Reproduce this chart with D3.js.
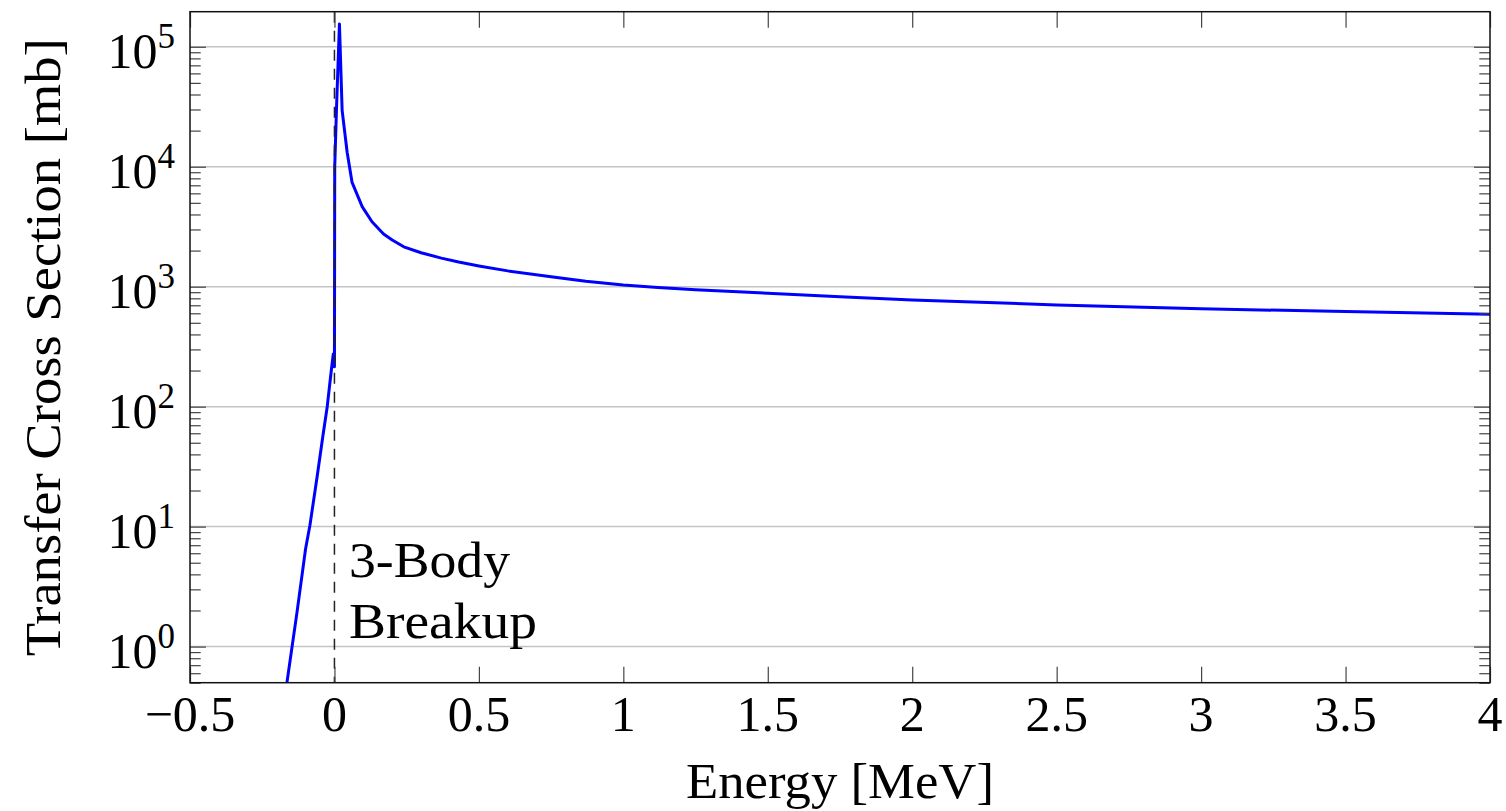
<!DOCTYPE html>
<html>
<head>
<meta charset="utf-8">
<script src="https://cdn.jsdelivr.net/npm/d3@7"></script>
<style>
  body { margin: 0; background: #fff; }
  text { font-family: "Liberation Serif", "DejaVu Serif", serif; fill: #000; }
</style>
</head>
<body>
<div id="chart"></div>
<script>
// Data (energy in MeV, cross section in mb)
const energy = [
  -0.19, -0.165, -0.13, -0.10, -0.085, -0.06, -0.04, -0.025, -0.012, -0.004,
  0.0, 0.001, 0.007, 0.0173, 0.0266, 0.044, 0.061, 0.096, 0.13, 0.17,
  0.2, 0.24, 0.3, 0.37, 0.43, 0.5, 0.6, 0.75, 0.87, 1.0, 1.12, 1.25,
  1.5, 1.75, 2.0, 2.5, 3.0, 3.5, 4.0
];
const crossSection = [
  0.18, 0.49, 1.9, 6.5, 10.2, 26, 57, 100, 190, 275,
  215, 10000, 30000, 155000, 29500, 13200, 7400, 4650, 3480, 2750,
  2450, 2150, 1920, 1730, 1605, 1490, 1355, 1210, 1110, 1035, 985, 945,
  881, 825, 775, 705, 655, 620, 590
];

const xTicks      = [-0.5, 0, 0.5, 1, 1.5, 2, 2.5, 3, 3.5, 4];
const xTickLabels = ["\u22120.5", "0", "0.5", "1", "1.5", "2", "2.5", "3", "3.5", "4"];
const yTicks      = [1, 10, 100, 1000, 10000, 100000];
const yTickExps   = ["0", "1", "2", "3", "4", "5"];
const thresholdE  = 0;           // 3-body breakup threshold
const annotation  = ["3-Body", "Breakup"];

const W = 1506, H = 811;
const pL = 190, pR = 1490, pT = 11.7, pB = 682.7;

const svg = d3.select("#chart").append("svg")
  .attr("width", W).attr("height", H);

const x = d3.scaleLinear().domain([-0.5, 4]).range([pL, pR]);
const y = d3.scaleLog().domain([0.5, 1.96e5]).range([pB, pT]);

// ── Clip to plot area ─────────────────────────────────────
svg.append("clipPath").attr("id", "clip")
  .append("rect")
  .attr("x", pL).attr("y", pT)
  .attr("width", pR - pL).attr("height", pB - pT);

// ── Horizontal grid lines at decades ─────────────────────
svg.append("g")
  .selectAll("line").data(yTicks).join("line")
  .attr("x1", pL).attr("x2", pR)
  .attr("y1", d => y(d)).attr("y2", d => y(d))
  .attr("stroke", "#c4c4c4").attr("stroke-width", 1.5);

// ── Curve ────────────────────────────────────────────────
const pts = energy.map((e, i) => [e, crossSection[i]]);
svg.append("path")
  .datum(pts)
  .attr("clip-path", "url(#clip)")
  .attr("fill", "none")
  .attr("stroke", "#0000ff")
  .attr("stroke-width", 3)
  .attr("stroke-linejoin", "round")
  .attr("d", d3.line().x(d => x(d[0])).y(d => y(d[1])));

// ── Threshold dashed line ────────────────────────────────
svg.append("line")
  .attr("x1", x(thresholdE)).attr("x2", x(thresholdE))
  .attr("y1", pT).attr("y2", pB)
  .attr("stroke", "#222").attr("stroke-width", 1.5)
  .attr("stroke-dasharray", "11,8");

// ── Minor y ticks (2..9 per decade) ──────────────────────
const minor = [];
for (let d = -1; d <= 5; d++) {
  for (let m = 2; m <= 9; m++) {
    const v = m * Math.pow(10, d);
    if (v >= 0.5 && v <= 1.96e5) minor.push(v);
  }
}

// ── Axes (ticks point inward) ────────────────────────────
const tickStyle = g => g.selectAll(".tick line").attr("stroke", "#444").attr("stroke-width", 1.2);

svg.append("g")
  .attr("transform", `translate(0,${pB})`)
  .call(d3.axisBottom(x).tickValues(xTicks).tickSizeInner(-16).tickSizeOuter(0).tickFormat(""))
  .call(g => g.select(".domain").remove())
  .call(tickStyle);

svg.append("g")
  .attr("transform", `translate(0,${pT})`)
  .call(d3.axisTop(x).tickValues(xTicks).tickSizeInner(-16).tickSizeOuter(0).tickFormat(""))
  .call(g => g.select(".domain").remove())
  .call(tickStyle);

[[d3.axisLeft, pL], [d3.axisRight, pR]].forEach(([ax, pos]) => {
  svg.append("g")
    .attr("transform", `translate(${pos},0)`)
    .call(ax(y).tickValues(minor).tickSizeInner(-10.7).tickSizeOuter(0).tickFormat(""))
    .call(g => g.select(".domain").remove())
    .call(tickStyle);
  svg.append("g")
    .attr("transform", `translate(${pos},0)`)
    .call(ax(y).tickValues(yTicks).tickSizeInner(-16).tickSizeOuter(0).tickFormat(""))
    .call(g => g.select(".domain").remove())
    .call(tickStyle);
});

// ── Frame ────────────────────────────────────────────────
svg.append("rect")
  .attr("x", pL).attr("y", pT)
  .attr("width", pR - pL).attr("height", pB - pT)
  .attr("fill", "none").attr("stroke", "#111").attr("stroke-width", 1.5);

// ── Tick labels ──────────────────────────────────────────
svg.append("g")
  .selectAll("text").data(xTicks).join("text")
  .attr("x", d => x(d)).attr("y", 731)
  .attr("text-anchor", "middle")
  .attr("font-size", 50)
  .text((d, i) => xTickLabels[i]);

const yl = svg.append("g")
  .selectAll("text").data(yTicks).join("text")
  .attr("x", 175).attr("y", d => y(d) + 21)
  .attr("text-anchor", "end")
  .attr("font-size", 50);
yl.append("tspan").text("10");
yl.append("tspan").attr("dy", -20).attr("font-size", 35).text((d, i) => yTickExps[i]);

// ── Axis labels ──────────────────────────────────────────
svg.append("text")
  .attr("x", (pL + pR) / 2).attr("y", 798)
  .attr("text-anchor", "middle")
  .attr("font-size", 50)
  .attr("textLength", 308).attr("lengthAdjust", "spacingAndGlyphs")
  .text("Energy [MeV]");

svg.append("text")
  .attr("transform", `translate(60,${(pT + pB) / 2}) rotate(-90)`)
  .attr("text-anchor", "middle")
  .attr("font-size", 50)
  .attr("textLength", 618).attr("lengthAdjust", "spacingAndGlyphs")
  .text("Transfer Cross Section [mb]");

// ── Annotation ───────────────────────────────────────────
svg.append("text")
  .attr("x", 349).attr("y", 577)
  .attr("font-size", 50)
  .attr("textLength", 161).attr("lengthAdjust", "spacingAndGlyphs")
  .text(annotation[0]);
svg.append("text")
  .attr("x", 349).attr("y", 638)
  .attr("font-size", 50)
  .attr("textLength", 188).attr("lengthAdjust", "spacingAndGlyphs")
  .text(annotation[1]);
</script>
</body>
</html>
